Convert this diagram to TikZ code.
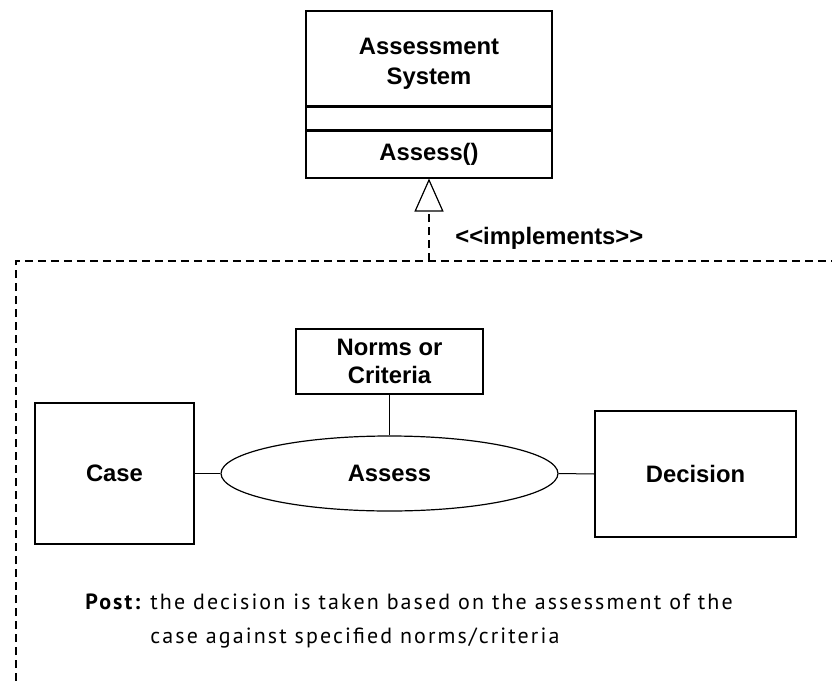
\documentclass[tikz,border=0pt]{standalone}
\usepackage{fontspec}
\setmainfont{Liberation Sans}
\newfontfamily\postfont[LetterSpace=9.5]{PT Sans}
\usetikzlibrary{shapes.geometric,positioning,arrows.meta}

\begin{document}
\begin{tikzpicture}[x=0.5pt,y=-0.5pt]
        \tikzset{
            umlbox/.style={draw=black,line width=0.7pt,inner sep=0pt,align=center,
                font=\bfseries\fontsize{11.9}{15}\selectfont},
            usecase/.style={ellipse,draw=black,line width=0.6pt,inner sep=0pt,
                font=\bfseries\fontsize{11.9}{15}\selectfont},
            link/.style={line width=0.5pt},
            bound/.style={dash pattern=on 4pt off 2.5pt,line width=0.75pt},
            posttext/.style={inner sep=0pt,align=left,
                font=\postfont\fontsize{11}{17}\selectfont},
        }
        \useasboundingbox (0,0) rectangle (832,681);

        % class with its three compartments
        \node[umlbox,minimum width=123pt,minimum height=47.5pt] (sysname) at (429,58.5) {\rule{0pt}{13.6pt}Assessment\\System};
        \node[umlbox,minimum width=123pt,minimum height=11pt,below=0pt of sysname] (sysattr) {};
        \node[umlbox,minimum width=123pt,minimum height=23.5pt,below=0pt of sysattr] (sysops) {Assess()};

        % package boundary
        \coordinate (bl) at (16,681);
        \coordinate (tl) at (16,261);
        \coordinate (tr) at (832,261);
        \coordinate (impl) at (429,261);
        \draw[bound] (bl) -- (tl) -- (tr);
        \draw[bound,-{Triangle[open,length=16.5pt,width=14.5pt,line width=0.6pt]}] (impl) -- (sysops.south);
        \node[inner sep=0pt,anchor=west,font=\bfseries\fontsize{11.9}{15}\selectfont] (impllbl) at (455,238) {<\kern0pt<implements>\kern0pt>};

        % use case
        \node[umlbox,minimum width=93.5pt,minimum height=32.5pt,font=\bfseries\fontsize{11.9}{14}\selectfont] (norms) at (389.5,361.5) {Norms or\\Criteria};
        \node[usecase,minimum width=168.5pt,minimum height=37.5pt] (assess) at (389.5,473.5) {Assess};
        \node[umlbox,minimum width=79.5pt,minimum height=70.5pt] (case) at (114.5,473.5) {Case};
        \node[umlbox,minimum width=100.5pt,minimum height=63pt] (decision) at (695.5,474) {Decision};

        \draw[link] (norms) -- (assess);
        \draw[link] (case.east) -- (assess.west);
        \draw[link] (assess.east) -- (decision.west);

        % post condition
        \node[posttext,anchor=base west] (postlbl) at (85,609) {\bfseries Post:};
        \node[posttext,anchor=base west] (posttxt) at (150,643) {the decision is taken based on the assessment of the\\case against specified norms/criteria};
    \end{tikzpicture}
\end{document}
